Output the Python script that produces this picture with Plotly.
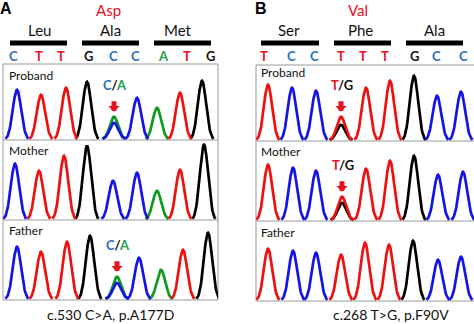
import numpy as np
import plotly.graph_objects as go

# ---------------- data ----------------
# Panel A : c.530 C>A, p.A177D   (scan position, called base, peak height)
A_PROBAND_POS = [17, 41, 66, 87, 114, 114, 137, 157, 180, 202]
A_PROBAND_BASE = ["C", "T", "T", "G", "C", "A", "C", "A", "T", "G"]
A_PROBAND_H = [49, 44, 51, 57, 16, 22, 41, 31, 46, 58]

A_MOTHER_POS = [15, 39, 64, 87, 113, 137, 157, 180, 204]
A_MOTHER_BASE = ["C", "T", "T", "G", "C", "C", "A", "T", "G"]
A_MOTHER_H = [55, 48, 63, 73, 38, 46, 28, 49, 74]

A_FATHER_POS = [17, 41, 67, 90, 117, 117, 139, 161, 183, 208]
A_FATHER_BASE = ["C", "T", "T", "G", "C", "A", "C", "A", "T", "G"]
A_FATHER_H = [52, 47, 57, 63, 16, 22, 41, 29, 49, 66]

# Panel B : c.268 T>G, p.F90V
B_PROBAND_POS = [268, 292, 316, 341, 341, 366, 390, 414, 437, 461, 486]
B_PROBAND_BASE = ["T", "C", "C", "T", "G", "T", "T", "G", "C", "C", "A"]
B_PROBAND_H = [55, 52, 49, 23, 15, 52, 59, 64, 44, 48, 45]

B_MOTHER_POS = [268, 293, 316, 342, 342, 366, 390, 414, 438, 463, 488]
B_MOTHER_BASE = ["T", "C", "C", "T", "G", "T", "T", "G", "C", "C", "A"]
B_MOTHER_H = [55, 52, 49, 23, 17, 51, 59, 64, 45, 48, 45]

B_FATHER_POS = [268, 293, 316, 341, 365, 389, 413, 438, 461, 486]
B_FATHER_BASE = ["T", "C", "C", "T", "T", "T", "G", "C", "C", "A"]
B_FATHER_H = [51, 49, 47, 45, 57, 55, 59, 40, 43, 45]

ROW_NAMES = ["Proband", "Mother", "Father"]

# reference sequence shown above each panel
A_SEQ = ["C", "T", "T", "G", "C", "C", "A", "T", "G"]
A_SEQ_POS = [13, 39, 61, 88, 113, 135, 163, 187, 210]
A_CODONS = ["Leu", "Ala", "Met"]
A_CODON_LABEL_POS = [39, 110, 178]
A_CODON_BAR = [(10, 67), (82, 139), (154, 211)]
A_AA_CHANGE = "Asp"

B_SEQ = ["T", "C", "C", "T", "T", "T", "G", "C", "C"]
B_SEQ_POS = [264, 291, 314, 341, 363, 385, 414, 436, 463]
B_CODONS = ["Ser", "Phe", "Ala"]
B_CODON_LABEL_POS = [289, 360, 434]
B_CODON_BAR = [(261, 319), (334, 391), (406, 463)]
B_AA_CHANGE = "Val"

# heterozygous calls: (panel, row, position, ref, alt)
MUTATIONS = [
    ("A", 0, 114, "C", "A"),
    ("A", 2, 117, "C", "A"),
    ("B", 0, 341, "T", "G"),
    ("B", 1, 342, "T", "G"),
]
CAPTIONS = {"A": "c.530 C>A, p.A177D", "B": "c.268 T>G, p.F90V"}

# ---------------- styling ----------------
W, H = 474, 324
TRACE_COLOR = {"A": "#0E9A1E", "C": "#1414E6", "G": "#000000", "T": "#EE1111"}
TEXT_COLOR = {"A": "#1FA04A", "C": "#2A6EBB", "G": "#111111", "T": "#E8101E"}
RED = "#E8101E"
FONT = "Lato"
BOX = "#9A9A9A"

PANELS = {
    "A": dict(x0=3, x1=218, rows=[(64, 140), (140, 220), (220, 300)],
              data=[(A_PROBAND_POS, A_PROBAND_BASE, A_PROBAND_H),
                    (A_MOTHER_POS, A_MOTHER_BASE, A_MOTHER_H),
                    (A_FATHER_POS, A_FATHER_BASE, A_FATHER_H)],
              seq=A_SEQ, seq_pos=A_SEQ_POS, codons=A_CODONS,
              codon_pos=A_CODON_LABEL_POS, bars=A_CODON_BAR,
              aa=A_AA_CHANGE, aa_x=108, letter_x=6, label_x=7, label_dy=[11, 10, 11],
              caption_x=110, full_box=True),
    "B": dict(x0=256, x1=474, rows=[(65, 141), (141, 221), (221, 301)],
              data=[(B_PROBAND_POS, B_PROBAND_BASE, B_PROBAND_H),
                    (B_MOTHER_POS, B_MOTHER_BASE, B_MOTHER_H),
                    (B_FATHER_POS, B_FATHER_BASE, B_FATHER_H)],
              seq=B_SEQ, seq_pos=B_SEQ_POS, codons=B_CODONS,
              codon_pos=B_CODON_LABEL_POS, bars=B_CODON_BAR,
              aa=B_AA_CHANGE, aa_x=358, letter_x=261, label_x=259, label_dy=[7, 10, 11],
              caption_x=391, full_box=False),
}


def px(x):
    return x / W


def py(y):
    return 1 - y / H


SIG = 4.2
HALF = 11.5


def peak_xy(c, h):
    xs = np.linspace(c - HALF, c + HALF, 49)
    g = np.exp(-((xs - c) ** 2) / (2 * SIG ** 2))
    ge = np.exp(-(HALF ** 2) / (2 * SIG ** 2))
    return xs, h * (g - ge) / (1 - ge)


def text_ann(x, y, text, size, color, family=FONT, xanchor="center"):
    return dict(x=px(x), y=py(y), xref="paper", yref="paper", text=text,
                showarrow=False, xanchor=xanchor, yanchor="middle",
                font=dict(family=family, size=size, color=color))


fig = go.Figure()
layout = dict(width=W, height=H, margin=dict(l=0, r=0, t=0, b=0),
              paper_bgcolor="white", plot_bgcolor="rgba(0,0,0,0)",
              showlegend=False)
shapes, annotations = [], []

axis_of = {}
idx = 0
for pname, P in PANELS.items():
    for r, (top, bot) in enumerate(P["rows"]):
        idx += 1
        axis_of[(pname, r)] = idx
        sfx = "" if idx == 1 else str(idx)
        layout["xaxis" + sfx] = dict(domain=[px(P["x0"]), px(P["x1"])],
                                     range=[P["x0"], P["x1"]], visible=False,
                                     anchor="y" + sfx, fixedrange=True)
        layout["yaxis" + sfx] = dict(domain=[py(bot), py(top)],
                                     range=[-1.2, (bot - top) - 1.2], visible=False,
                                     anchor="x" + sfx, fixedrange=True)
        pos, bases, hts = P["data"][r]
        for b in ["G", "A", "C", "T"]:
            xs_all, ys_all = [], []
            for c, bb, h in zip(pos, bases, hts):
                if bb != b:
                    continue
                xs, ys = peak_xy(c, h)
                xs_all += list(xs) + [None]
                ys_all += list(ys) + [None]
            if xs_all:
                fig.add_trace(go.Scatter(x=xs_all, y=ys_all, mode="lines",
                                         line=dict(color=TRACE_COLOR[b], width=2.7),
                                         xaxis="x" + sfx, yaxis="y" + sfx,
                                         hoverinfo="skip"))
        annotations.append(text_ann(P["label_x"], top + P["label_dy"][r], ROW_NAMES[r],
                                    12, "#111111", xanchor="left"))

    # boxes
    x0, x1 = P["x0"], P["x1"]
    t0, b0 = P["rows"][0][0], P["rows"][-1][1]
    lines = [(x0, t0, x1, t0), (x0, t0, x0, b0), (x0, b0, x1, b0)]
    if P["full_box"]:
        lines.append((x1, t0, x1, b0))
    for (_, bot) in P["rows"][:-1]:
        lines.append((x0, bot, x1, bot))
    for (a, b_, c, d) in lines:
        shapes.append(dict(type="line", xref="paper", yref="paper",
                           x0=px(a), y0=py(b_), x1=px(c), y1=py(d),
                           line=dict(color=BOX, width=1), layer="below"))

    annotations.append(text_ann(P["letter_x"], 8, "<b>%s</b>" % pname, 16, "black",
                                family="Liberation Sans"))
    annotations.append(text_ann(P["aa_x"], 10, P["aa"], 15, RED))
    for name, cx, (bx0, bx1) in zip(P["codons"], P["codon_pos"], P["bars"]):
        annotations.append(text_ann(cx, 30, name, 15, "#111111"))
        shapes.append(dict(type="line", xref="paper", yref="paper",
                           x0=px(bx0), x1=px(bx1), y0=py(43), y1=py(43),
                           line=dict(color="black", width=5)))
    for b, sx in zip(P["seq"], P["seq_pos"]):
        annotations.append(text_ann(sx, 56, "<b>%s</b>" % b, 13, TEXT_COLOR[b]))
    annotations.append(text_ann(P["caption_x"], 314, CAPTIONS[pname], 14, "#111111"))

# mutation markers
for pname, r, pos, ref, alt in MUTATIONS:
    i = axis_of[(pname, r)]
    sfx = "" if i == 1 else str(i)
    pos_l, base_l, h_l = PANELS[pname]["data"][r]
    hmax = max(h for c, h in zip(pos_l, h_l) if c == pos)
    tip = hmax + 5
    annotations.append(dict(x=pos, y=tip, xref="x" + sfx, yref="y" + sfx,
                            ax=0, ay=-12, text="", showarrow=True,
                            arrowhead=1, arrowwidth=5, arrowsize=0.38,
                            arrowcolor=RED))
    txt = ('<b><span style="color:%s">%s</span>/<span style="color:%s">%s</span></b>'
           % (TEXT_COLOR[ref], ref, TEXT_COLOR[alt] if alt != "G" else "#111111", alt))
    annotations.append(dict(x=pos + 1, y=tip + 27, xref="x" + sfx, yref="y" + sfx,
                            text=txt, showarrow=False, xanchor="center", yanchor="middle",
                            font=dict(family=FONT, size=13, color="#111111")))

layout["shapes"] = shapes
layout["annotations"] = annotations
fig.update_layout(**layout)
fig.write_html("out.html", config={"displayModeBar": False})
